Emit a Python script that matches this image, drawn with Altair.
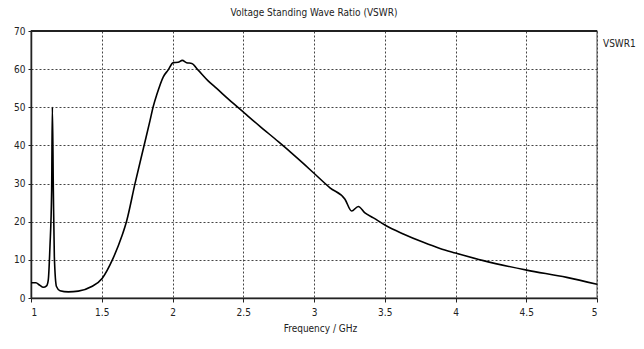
import altair as alt
import pandas as pd

freq = [1.0, 1.035, 1.06, 1.087, 1.11, 1.122, 1.134, 1.146, 1.151, 1.158, 1.165, 1.18, 1.205,
        1.264, 1.334, 1.429, 1.504, 1.575, 1.641, 1.676, 1.735, 1.80, 1.841, 1.864, 1.888,
        1.935, 1.97, 2.005, 2.04, 2.069, 2.10, 2.136, 2.18, 2.25, 2.31, 2.43, 2.505, 2.618,
        2.748, 2.83, 2.924, 3.0, 3.113, 3.219, 3.266, 3.313, 3.36, 3.42, 3.507, 3.631,
        3.773, 3.89, 4.0, 4.197, 4.503, 4.786, 5.0]
vswr = [4.0, 4.0, 3.4, 2.8, 3.2, 4.7, 13.5, 28.3, 50.0, 28.0, 10.8, 3.0, 1.9,
        1.6, 1.8, 3.0, 5.2, 10.0, 16.1, 20.2, 30.0, 40.1, 46.5, 50.2, 53.2,
        58.0, 59.8, 61.7, 61.8, 62.3, 61.7, 61.5, 59.8, 57.0, 55.0, 51.0, 48.6, 45.0,
        41.0, 38.4, 35.3, 32.7, 28.9, 25.9, 22.8, 24.0, 22.3, 21.0, 19.0, 16.8,
        14.6, 13.0, 11.8, 9.8, 7.3, 5.4, 3.6]
series = ["VSWR1"] * len(freq)
x_ticks = [1, 1.5, 2, 2.5, 3, 3.5, 4, 4.5, 5]
y_ticks = [0, 10, 20, 30, 40, 50, 60, 70]

df = pd.DataFrame({"freq": freq, "vswr": vswr, "series": series})

FONT = "DejaVu Sans Condensed"

line = alt.Chart(df).mark_line(color="black", strokeWidth=1.6, interpolate="monotone").encode(
    x=alt.X("freq:Q", scale=alt.Scale(domain=[1, 5], nice=False),
            axis=alt.Axis(values=x_ticks, format="~g", title="Frequency / GHz",
                          grid=True, gridDash=[2, 2], gridColor="#444", gridWidth=1,
                          domainColor="#222", domainWidth=1.5, tickColor="#222", tickSize=4,
                          labelPadding=5, labelFontSize=10, labelColor="#222", labelFont=FONT,
                          titleFont=FONT, titleFontSize=10, titleFontWeight="normal",
                          titleColor="#222", titlePadding=6, titleX=289, titleAlign="center")),
    y=alt.Y("vswr:Q", scale=alt.Scale(domain=[0, 70], nice=False),
            axis=alt.Axis(values=y_ticks, title=None,
                          grid=True, gridDash=[2, 2], gridColor="#444", gridWidth=1,
                          domainColor="#222", domainWidth=1.5, tickColor="#222", tickSize=3,
                          labelPadding=3, labelFontSize=10, labelColor="#222", labelFont=FONT)),
    stroke=alt.Stroke("series:N", scale=alt.Scale(range=["black"]),
                      legend=alt.Legend(title=None, orient="none", legendX=562, legendY=8,
                                        symbolSize=0, symbolOpacity=0, symbolStrokeWidth=0,
                                        labelFont=FONT, labelFontSize=10, labelColor="#222",
                                        labelOffset=0, padding=0)),
)

top = alt.Chart(df).mark_rule(color="#222", strokeWidth=1.5).encode(
    x=alt.value(0), x2=alt.value(566), y=alt.value(0)
)

chart = alt.layer(line, top).properties(
    width=566, height=267,
    autosize=alt.AutoSizeParams(type="none"),
    padding={"left": 23, "top": 23, "right": 39, "bottom": 43},
    title=alt.TitleParams("Voltage Standing Wave Ratio (VSWR)", font=FONT, fontSize=10,
                          fontWeight="normal", color="#222", offset=8, anchor="middle"),
).configure_view(stroke="#888", strokeWidth=1.5)

chart.save("out.html", embed_options={"renderer": "svg", "actions": False})
